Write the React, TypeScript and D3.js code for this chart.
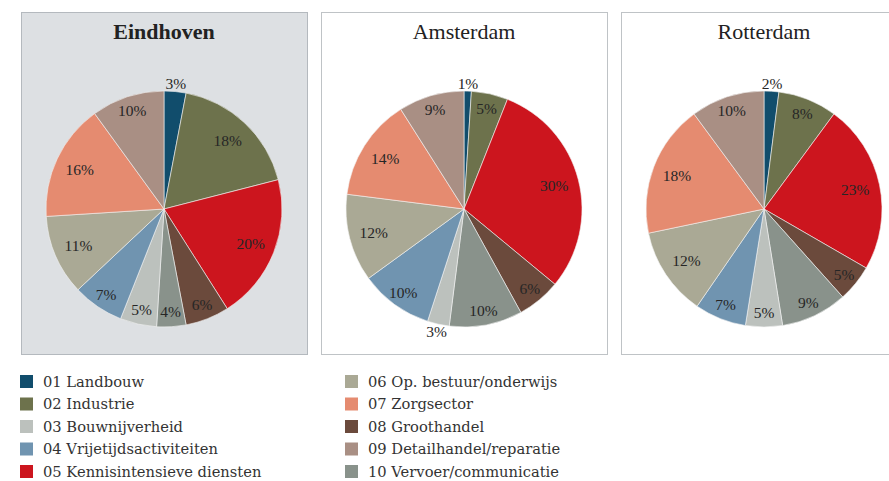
import * as d3 from 'd3'

// sectors in legend order
const sectors = [
  '01 Landbouw',
  '02 Industrie',
  '03 Bouwnijverheid',
  '04 Vrijetijdsactiviteiten',
  '05 Kennisintensieve diensten',
  '06 Op. bestuur/onderwijs',
  '07 Zorgsector',
  '08 Groothandel',
  '09 Detailhandel/reparatie',
  '10 Vervoer/communicatie',
]
const colors = ['#114d6c', '#6d724c', '#bcc1bd', '#7094b0', '#cc151e', '#aaa995', '#e58b70', '#6b4a3c', '#a98f84', '#89928b']

// order of slices clockwise from 12 o'clock
const sliceOrder = [
  '01 Landbouw',
  '02 Industrie',
  '05 Kennisintensieve diensten',
  '08 Groothandel',
  '10 Vervoer/communicatie',
  '03 Bouwnijverheid',
  '04 Vrijetijdsactiviteiten',
  '06 Op. bestuur/onderwijs',
  '07 Zorgsector',
  '09 Detailhandel/reparatie',
]

const cities = ['Eindhoven', 'Amsterdam', 'Rotterdam']
const eindhoven = [3, 18, 20, 6, 4, 5, 7, 11, 16, 10]
const amsterdam = [1, 5, 30, 6, 10, 3, 10, 12, 14, 9]
const rotterdam = [2, 8, 23, 5, 9, 5, 7, 12, 18, 10]
const cityValues = [eindhoven, amsterdam, rotterdam]

const W = 889
const H = 481
const font = '"Liberation Serif", "Times New Roman", serif'
const legendFont = '"DejaVu Serif", serif'

const color = d3.scaleOrdinal<string, string>().domain(sectors).range(colors)

const panelX = d3.scalePoint<string>().domain(cities).range([21, 621])
const panelW = 286
const panelTop = 12
const panelH = 342
const R = 118
const cy = 209

const pie = d3.pie<number>().sort(null).value((d) => d)
const arc = d3.arc<d3.PieArcDatum<number>>().innerRadius(0).outerRadius(R)

// small slices get their label outside, mid-sized ones near the rim
const labelRadius = (v: number) => (v <= 3 ? R + 8 : v >= 11 ? R * 0.79 : R * 0.875)

const Pie = ({ city, values, i }: { city: string; values: number[]; i: number }) => {
  const x0 = panelX(city) as number
  const cx = x0 + panelW / 2
  const arcs = pie(values)
  return (
    <g>
      <rect
        x={x0 + 0.5}
        y={panelTop + 0.5}
        width={panelW}
        height={panelH}
        fill={i === 0 ? '#dde0e3' : '#fff'}
        stroke={i === 0 ? '#b4b9be' : '#bfc3c6'}
        strokeWidth={1}
      />
      <text
        x={cx}
        y={38.5}
        textAnchor="middle"
        fontFamily={font}
        fontSize={22}
        fontWeight={i === 0 ? 'bold' : 'normal'}
        fill="#222"
      >
        {city}
      </text>
      <g transform={`translate(${cx},${cy})`}>
        {arcs.map((a, j) => (
          <path key={j} d={arc(a) as string} fill={color(sliceOrder[j])} stroke="#f4f4f4" strokeWidth={0.6} />
        ))}
        {arcs.map((a, j) => {
          const mid = (a.startAngle + a.endAngle) / 2
          const r = labelRadius(a.data)
          return (
            <text
              key={'l' + j}
              x={Math.sin(mid) * r}
              y={-Math.cos(mid) * r}
              dy="0.35em"
              textAnchor="middle"
              fontFamily={font}
              fontSize={15.5}
              fill="#262626"
            >
              {a.data}%
            </text>
          )
        })}
      </g>
    </g>
  )
}

const legendCol = d3.scaleOrdinal<number, number>().domain([0, 1]).range([20, 345])
const legendRow = d3.scaleLinear().domain([0, 4]).range([381.5, 471.5])

export default function App() {
  return (
    <svg width={W} height={H} style={{ position: 'absolute', left: 0, top: 0, background: '#fff' }}>
      {cities.map((c, i) => (
        <Pie key={c} city={c} values={cityValues[i]} i={i} />
      ))}
      {sectors.map((s, k) => {
        const col = Math.floor(k / 5)
        const row = k % 5
        const x = legendCol(col)
        const y = legendRow(row)
        return (
          <g key={s}>
            <rect x={x} y={y - 6.5} width={13} height={13} fill={color(s)} />
            <text x={x + 23} y={y} dy="0.36em" fontFamily={legendFont} fontSize={14.7} fill="#333">
              {s}
            </text>
          </g>
        )
      })}
    </svg>
  )
}
